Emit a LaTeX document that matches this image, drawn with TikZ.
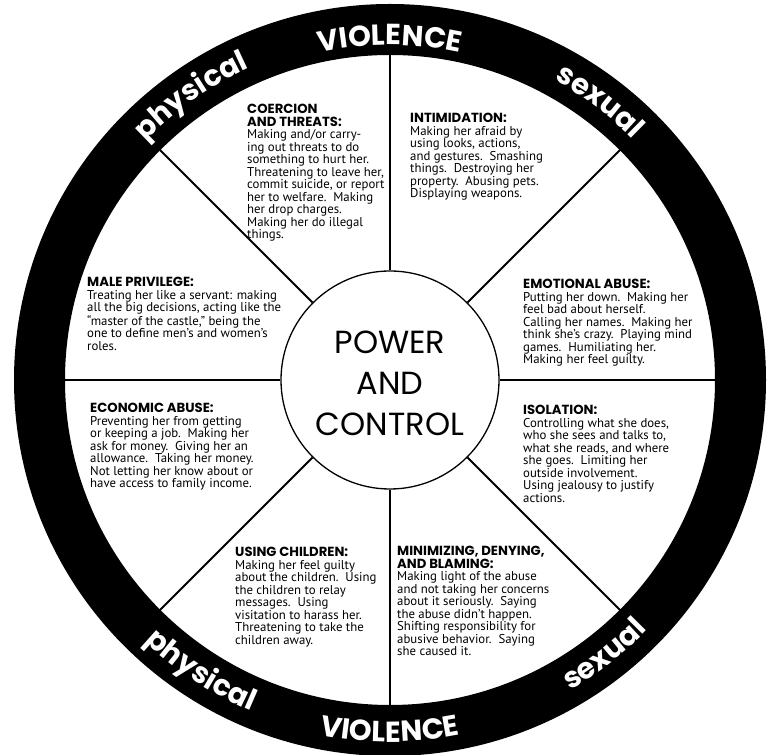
\documentclass[tikz,border=0pt]{standalone}
\usepackage{fontspec}
\setmainfont{PT Sans}
\newfontfamily\headfont{Poppins}
\usetikzlibrary{decorations.text,calc}
\newcommand\bodysize{\fontsize{12.8}{12.5}\selectfont}
\newcommand\hd[1]{{\headfont\bfseries\fontsize{13.2}{14}\selectfont #1}}
\newcommand\ringtxt{\color{white}\headfont\bfseries\fontsize{29}{29}\selectfont}
\newcommand\dsp{\ \ }
\tikzset{
  block/.style={anchor=north west, align=left, inner sep=0pt, font=\bodysize},
  spoke/.style={line width=2pt, black},
  ringtext/.style={decorate},
}
\begin{document}
\begin{tikzpicture}[x=1pt,y=1pt]
\useasboundingbox (0,0) rectangle (780,755);
\fill[white] (0,0) rectangle (780,755);
\coordinate (C) at (390,375);
% ring
\fill[black, even odd rule] (C) circle (376) (C) circle (325);
% center circle
\node[circle, draw, line width=1.3pt, minimum size=218pt, inner sep=0pt, fill=white] (pc) at (C) {};
\node[align=center, font={\headfont\fontsize{32}{41}\selectfont}, yshift=-3pt] (pctext) at (C) {POWER\\AND\\CONTROL};
% spokes
\foreach \a in {0,45,...,315} {
  \coordinate (r\a) at ($(C)+(\a:325.5)$);
}
\foreach \a in {0,45,...,315} {
  \draw[spoke] (pc.\a) -- (r\a);
}
% ring texts
\path[ringtext, decoration={text along path, text={|\ringtxt|VIOLENCE}, text align=center}]
  (C) ++(115:335) arc (115:65:335);
\path[ringtext, decoration={text along path, text={|\ringtxt|physical}, text align=center}]
  (C) ++(150:342) arc (150:100:342);
\path[ringtext, decoration={text along path, text={|\ringtxt|sexual}, text align=center}]
  (C) ++(78:342) arc (78:28:342);
\path[ringtext, decoration={text along path, text={|\ringtxt|VIOLENCE}, text align=center}]
  (C) ++(245:362) arc (245:295:362);
\path[ringtext, decoration={text along path, text={|\ringtxt|physical}, text align=center}]
  (C) ++(212:359) arc (212:262:359);
\path[ringtext, decoration={text along path, text={|\ringtxt|sexual}, text align=center}]
  (C) ++(283:359) arc (283:333:359);
% text blocks
\node[block] (coercion) at (247,651) {\hd{COERCION}\\\hd{AND THREATS:}\\
Making and/or carry-\\
ing out threats to do\\
something to hurt her.\\
Threatening to leave her,\\
commit suicide, or report\\
her to welfare.\dsp Making\\
her drop charges.\\
Making her do illegal\\
things.};
\node[block] (intim) at (410,642) {\hd{INTIMIDATION:}\\
Making her afraid by\\
using looks, actions,\\
and gestures.\dsp Smashing\\
things.\dsp Destroying her\\
property.\dsp Abusing pets.\\
Displaying weapons.};
\node[block] (emot) at (523,476) {\hd{EMOTIONAL ABUSE:}\\
Putting her down.\dsp Making her\\
feel bad about herself.\\
Calling her names.\dsp Making her\\
think she’s crazy.\dsp Playing mind\\
games.\dsp Humiliating her.\\
Making her feel guilty.};
\node[block] (isol) at (523,350) {\hd{ISOLATION:}\\
Controlling what she does,\\
who she sees and talks to,\\
what she reads, and where\\
she goes.\dsp Limiting her\\
outside involvement.\\
Using jealousy to justify\\
actions.};
\node[block] (minim) at (397,209) {\hd{MINIMIZING, DENYING,}\\\hd{AND BLAMING:}\\
Making light of the abuse\\
and not taking her concerns\\
about it seriously.\dsp Saying\\
the abuse didn’t happen.\\
Shifting responsibility for\\
abusive behavior.\dsp Saying\\
she caused it.};
\node[block] (child) at (235,208) {\hd{USING CHILDREN:}\\
Making her feel guilty\\
about the children.\dsp Using\\
the children to relay\\
messages.\dsp Using\\
visitation to harass her.\\
Threatening to take the\\
children away.};
\node[block] (econ) at (90,352) {\hd{ECONOMIC ABUSE:}\\
Preventing her from getting\\
or keeping a job.\dsp Making her\\
ask for money.\dsp Giving her an\\
allowance.\dsp Taking her money.\\
Not letting her know about or\\
have access to family income.};
\node[block] (male) at (87,478) {\hd{MALE PRIVILEGE:}\\
Treating her like a servant: making\\
all the big decisions, acting like the\\
“master of the castle,” being the\\
one to define men’s and women’s\\
roles.};
\end{tikzpicture}
\end{document}
